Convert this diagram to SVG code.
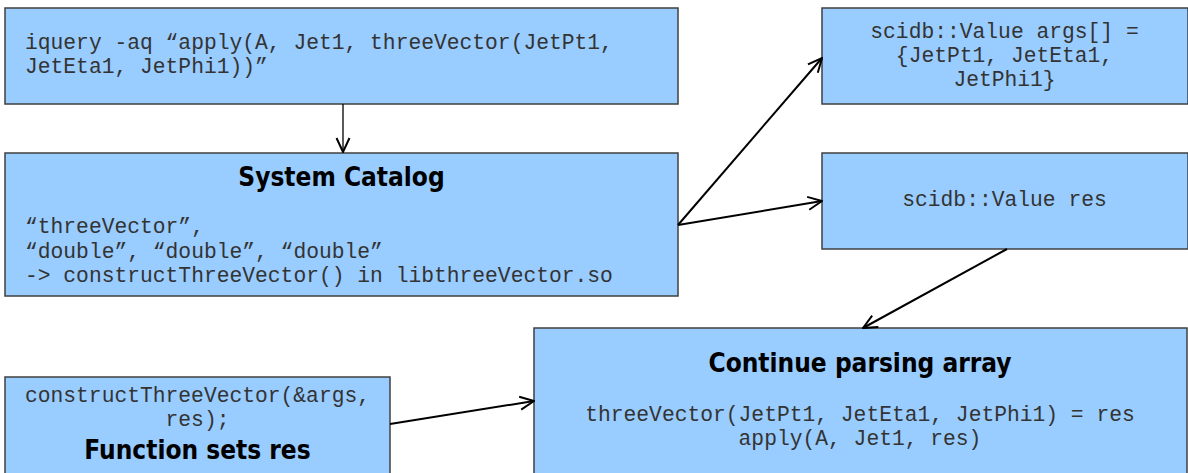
<svg xmlns="http://www.w3.org/2000/svg" width="1188" height="473" viewBox="0 0 1188 473">
<style>
.box{fill:#99CCFF;stroke:#404040;stroke-width:1.5}
.mono{font-family:"Liberation Mono","Courier New",monospace;font-size:21.3px;fill:#333333}
.bold{font-family:"DejaVu Sans Condensed","DejaVu Sans",Verdana,sans-serif;font-stretch:condensed;font-weight:bold;font-size:26px;fill:#000000}
.mid{text-anchor:middle}
.conn{stroke:#000000;fill:none;stroke-width:2}
</style>
<defs>
<marker id="arr" viewBox="0 0 16 16" refX="15" refY="8" markerWidth="16" markerHeight="16" markerUnits="userSpaceOnUse" orient="auto">
<path d="M1,1.5 L15,8 L1,14.5" fill="none" stroke="#000000" stroke-width="2"/>
</marker>
</defs>
<rect width="1188" height="473" fill="#ffffff"/>
<g id="n-query">
<rect class="box" x="5" y="8" width="673" height="96"/>
<text class="mono" x="25" y="49">iquery -aq “apply(A, Jet1, threeVector(JetPt1,</text>
<text class="mono" x="25" y="73">JetEta1, JetPhi1))”</text>
</g>
<g id="n-catalog">
<rect class="box" x="5" y="153" width="673" height="143"/>
<text class="bold mid" x="341.5" y="186">System Catalog</text>
<text class="mono" x="25" y="233">“threeVector”,</text>
<text class="mono" x="25" y="257.5">“double”, “double”, “double”</text>
<text class="mono" x="25" y="282">-&gt; constructThreeVector() in libthreeVector.so</text>
</g>
<g id="n-args">
<rect class="box" x="822" y="8" width="366" height="96"/>
<text class="mono mid" x="1004.5" y="38">scidb::Value args[] =</text>
<text class="mono mid" x="1004.5" y="62">{JetPt1, JetEta1,</text>
<text class="mono mid" x="1004.5" y="86">JetPhi1}</text>
</g>
<g id="n-res">
<rect class="box" x="822" y="153" width="366" height="96"/>
<text class="mono mid" x="1004.5" y="206">scidb::Value res</text>
</g>
<g id="n-continue">
<rect class="box" x="534" y="328" width="653" height="160"/>
<text class="bold mid" x="860" y="372">Continue parsing array</text>
<text class="mono mid" x="860" y="421">threeVector(JetPt1, JetEta1, JetPhi1) = res</text>
<text class="mono mid" x="860" y="445">apply(A, Jet1, res)</text>
</g>
<g id="n-function">
<rect class="box" x="5" y="377" width="385" height="110"/>
<text class="mono mid" x="197.5" y="402">constructThreeVector(&amp;args,</text>
<text class="mono mid" x="197.5" y="426">res);</text>
<text class="bold mid" x="197.5" y="459">Function sets res</text>
</g>
<g id="connectors">
<line class="conn" x1="343" y1="104" x2="343" y2="152" style="stroke-width:1.3" marker-end="url(#arr)"/>
<line class="conn" x1="678" y1="225" x2="822" y2="58" marker-end="url(#arr)"/>
<line class="conn" x1="678" y1="225" x2="822" y2="201" marker-end="url(#arr)"/>
<line class="conn" x1="1007" y1="249" x2="863" y2="328" marker-end="url(#arr)"/>
<line class="conn" x1="390" y1="424" x2="534" y2="401" marker-end="url(#arr)"/>
</g>
</svg>
